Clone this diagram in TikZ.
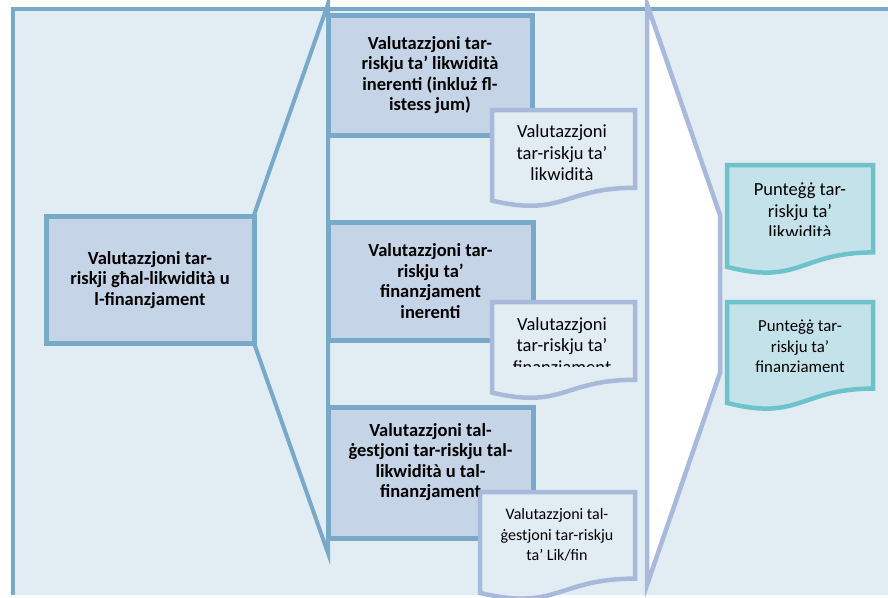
\documentclass[tikz,border=0pt]{standalone}
\usepackage{fontspec}
\setmainfont{Carlito}
\definecolor{frameC}{HTML}{78A9C9}
\definecolor{bgC}{HTML}{E1ECF3}
\definecolor{boxC}{HTML}{C5D4E6}
\definecolor{docC}{HTML}{A9B9DC}
\definecolor{tealC}{HTML}{6EC2CA}
\definecolor{tealF}{HTML}{C3E2EA}
\newcommand\mydocshape[5]{%
  \path[#5] (#1,#2) -- (#3,#2) -- (#3,{#2+0.802*#4})
    .. controls ({(#1+#3)/2},{#2+0.802*#4}) and ({(#1+#3)/2},{#2+1.107*#4}) ..
    (#1,{#2+0.934*#4}) -- cycle;}
\begin{document}
\begin{tikzpicture}[x=1pt,y=-1pt,
  bluebox/.style={draw=frameC, line width=5pt, fill=boxC, inner sep=0pt,
    align=center, font=\fontsize{18.5}{20.5}\selectfont\bfseries},
  bluedoc/.style={draw=docC, line width=4.5pt, fill=bgC},
  tealdoc/.style={draw=tealC, line width=4.5pt, fill=tealF},
  doctext/.style={align=center, inner sep=0pt, font=\fontsize{18.5}{21.5}\selectfont},
  smalltext/.style={align=center, inner sep=0pt, font=\fontsize{16.8}{20.5}\selectfont},
  tinytext/.style={align=center, inner sep=0pt, font=\fontsize{16}{20.5}\selectfont},
  boldtext/.style={align=center, inner sep=0pt, font=\fontsize{18.5}{20.5}\selectfont\bfseries}
]
\useasboundingbox (0,0) rectangle (888,597);
\clip (0,0) rectangle (888,597);
% frame
\fill[bgC] (13,9) rectangle (895,595);
\draw[frameC, line width=4pt] (13,595) -- (13,9) -- (895,9);
% left callout
\draw[frameC, line width=4pt, fill=bgC] (254,215) -- (328,4) -- (328,553) -- (254,343);
% left box
\node[bluebox, minimum width=208pt, minimum height=127pt] (lbox) at (150,280)
  {Valutazzjoni tar-\\riskji għal-likwidità u\\l-finanzjament};
% middle boxes
\node[bluebox, minimum width=204pt, minimum height=120pt] (b1) at (430,75)
  {Valutazzjoni tar-\\riskju ta’ likwidità\\inerenti (inkluż fl-\\istess jum)};
\node[bluebox, minimum width=205pt, minimum height=118pt] (b2) at (430.5,281)
  {Valutazzjoni tar-\\riskju ta’\\finanzjament\\inerenti};
\node[bluebox, minimum width=205pt, minimum height=131pt] (b3) at (430.5,472.5) {};
\node[boldtext] (b3t) at (430.5,462)
  {Valutazzjoni tal-\\ġestjoni tar-riskju tal-\\likwidità u tal-\\finanzjament};
% documents in middle column
\mydocshape{492}{110}{635}{97}{bluedoc}
\node[doctext] (d1) at (562,153) {Valutazzjoni\\tar-riskju ta’\\likwidità};
\mydocshape{492}{302}{635}{97}{bluedoc}
\begin{scope}
\clip (490,300) rectangle (640,366);
\node[doctext] (d2) at (562,347) {Valutazzjoni\\tar-riskju ta’\\finanzjament};
\end{scope}
\mydocshape{480}{492}{635}{108}{bluedoc}
\node[tinytext] (d3) at (557,535) {Valutazzjoni tal-\\ġestjoni tar-riskju\\ta’ Lik/fin};
% arrow callout
\draw[docC, line width=4.5pt, fill=white] (647,4) -- (720,215) -- (720,373) -- (647,585) -- cycle;
% right documents
\mydocshape{727}{165}{873}{109}{tealdoc}
\begin{scope}
\clip (720,160) rectangle (880,235);
\node[doctext] (d4) at (800,211) {Punteġġ tar-\\riskju ta’\\likwidità};
\end{scope}
\mydocshape{727}{302}{873}{108}{tealdoc}
\begin{scope}
\clip (720,300) rectangle (880,371);
\node[smalltext] (d5) at (800,348) {Punteġġ tar-\\riskju ta’\\finanzjament};
\end{scope}
\end{tikzpicture}
\end{document}
